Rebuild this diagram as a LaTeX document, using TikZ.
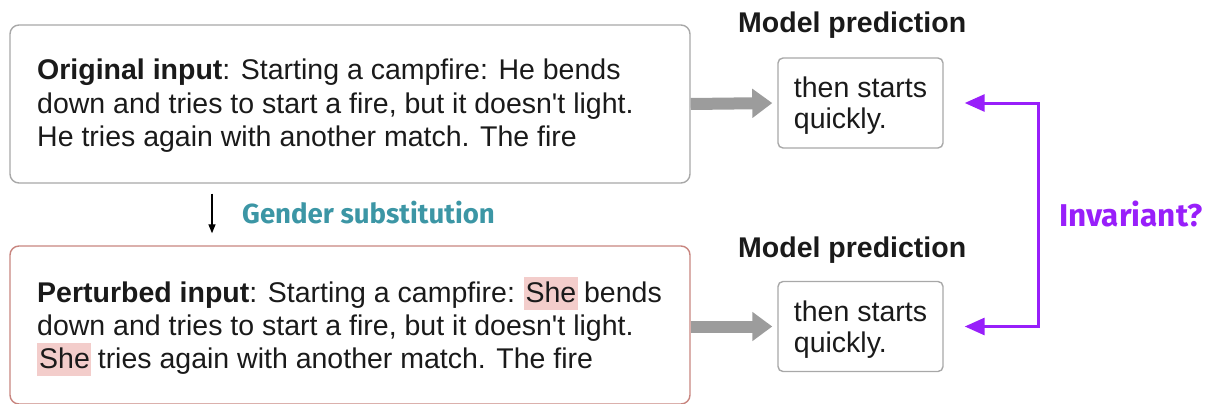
\documentclass[tikz,border=0pt]{standalone}
\usepackage{fontspec}
\setmainfont{Liberation Sans}[Ligatures=TeXOff]
\newfontfamily\tagfont{Fira Sans}
\usetikzlibrary{arrows.meta}

\definecolor{inktext}{HTML}{1A1A1A}
\definecolor{boxgray}{HTML}{A8A8A8}
\definecolor{boxred}{HTML}{C8857F}
\definecolor{arrowgray}{HTML}{9C9C9C}
\definecolor{hlpink}{HTML}{F3CDCB}
\definecolor{tealtag}{HTML}{3C96A5}
\definecolor{purptag}{RGB}{152,31,250}

% pink highlight behind a substituted word
\newcommand\hlword[1]{{\setlength{\fboxsep}{0pt}\hspace{-2pt}\colorbox{hlpink}{\rule[-7.5pt]{0pt}{33pt}\kern2pt #1\kern1.5pt}\hspace{-1.5pt}}}

% two-line prediction text, lowered a little inside its box
\newcommand\predtext{\raisebox{-4pt}[\height][\depth]{\begin{tabular}{@{}l@{}}then starts\\quickly.\end{tabular}}}

\tikzset{
  inputbox/.style={draw, rounded corners=9pt, line width=1.4pt, minimum width=680pt, minimum height=158pt, inner sep=0pt},
  predbox/.style={draw=boxgray, rounded corners=5pt, line width=1.4pt, minimum width=165pt, minimum height=90pt,
    inner sep=0pt, font=\fontsize{28.5}{31}\selectfont, text=inktext},
  bodytext/.style={anchor=base west, inner sep=0pt, text=inktext},
  headtext/.style={anchor=base west, inner sep=0pt, text=inktext, font=\fontsize{28.5}{31}\selectfont\bfseries},
  feed/.style={draw=arrowgray, line width=12pt, -{Triangle[length=20pt,width=28pt]}, shorten >=5pt},
  pairarrow/.style={draw=purptag, line width=3pt, {Triangle[length=20pt,width=17pt]}-{Triangle[length=20pt,width=17pt]}}
}

\newcommand\bodyfont{\fontsize{28.5}{33.3}\selectfont}

\begin{document}
\begin{tikzpicture}[x=1pt,y=-1pt]
  \useasboundingbox (0,0) rectangle (1210,404);

  % input boxes
  \node[inputbox, draw=boxgray] (orig) at (350,104) {};
  \node[inputbox, draw=boxred] (pert) at (350,325) {};

  \node[bodytext] (origtext) at (37,80) {\parbox[t]{650pt}{\bodyfont
    \textbf{Original input}: Starting a campfire: He bends\\
    down and tries to start a fire, but it doesn't light.\\
    He tries again with another match. The fire}};

  \node[bodytext] (perttext) at (37,302) {\parbox[t]{650pt}{\bodyfont
    \textbf{Perturbed input}: Starting a campfire: \hlword{She} bends\\
    down and tries to start a fire, but it doesn't light.\\
    \hlword{She} tries again with another match. The fire}};

  % perturbation step
  \draw[line width=1.3pt, -{Triangle[length=9pt,width=7pt]}, shorten <=10pt, shorten >=12pt]
    ([xshift=-138pt]orig.south) -- ([xshift=-138pt]pert.north);
  \node[anchor=base west, inner sep=0pt, text=tealtag, font=\tagfont\bfseries\fontsize{27.6}{30}\selectfont]
    (gender) at (242,223) {Gender substitution};

  % model outputs
  \node[headtext] (headA) at (738,33) {Model prediction};
  \node[headtext] (headB) at (738,257) {Model prediction};
  \node[predbox] (predA) at (860.5,103) {\predtext};
  \node[predbox] (predB) at (860.5,326.5) {\predtext};

  \draw[feed] (orig.east) -- (predA.west);
  \draw[feed] (pert.east |- predB.west) -- (predB.west);

  % invariance check
  \draw[pairarrow] ([xshift=21pt]predA.east) -- ++(74pt,0) |- ([xshift=21pt]predB.east);
  \node[anchor=base west, inner sep=0pt, text=purptag, font=\tagfont\bfseries\fontsize{31.5}{34}\selectfont]
    (inv) at (1059,226) {Invariant?};
\end{tikzpicture}
\end{document}
